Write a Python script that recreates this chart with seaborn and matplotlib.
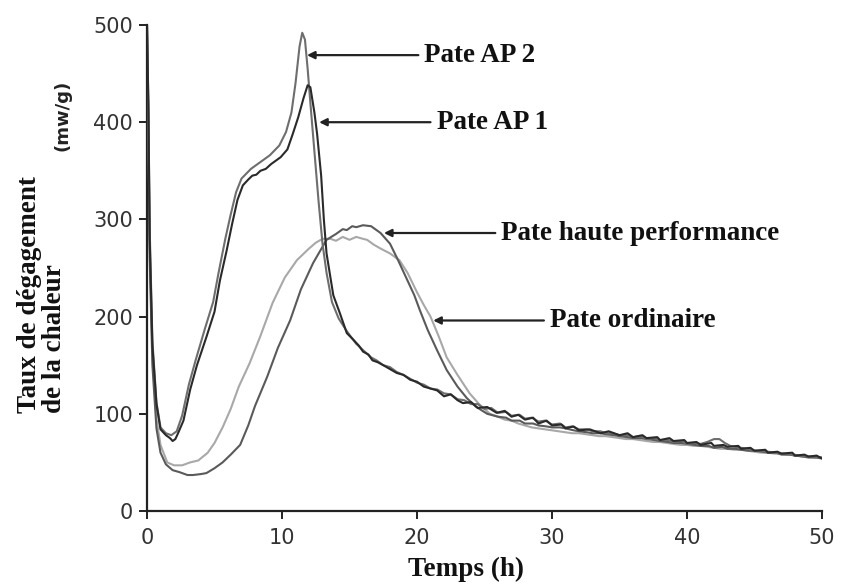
import matplotlib
matplotlib.use("Agg")
import matplotlib.pyplot as plt
import seaborn as sns
import pandas as pd

# ---------------- data ----------------
ap1_t = [0, 0.1, 0.2, 0.4, 0.7, 1.0, 1.4, 1.7, 1.9, 2.1, 2.3, 2.7, 3.2, 3.7, 4.4, 5.0, 5.4, 5.9, 6.3, 6.7,
         7.1, 7.5, 7.8, 8.1, 8.4, 8.8, 9.2, 9.6, 9.9, 10.4, 10.8, 11.2, 11.6, 11.9, 12.1, 12.4, 12.6, 12.9,
         13.1, 13.3, 13.8, 14.3, 14.8, 15.3, 15.7, 16.0, 16.4, 16.7, 17.1, 17.5, 18.0, 18.5, 19.0, 19.5, 20.0,
         20.5, 21.0, 21.5, 22.0, 22.5, 23.0, 23.4, 24.0, 24.5, 25.2, 25.9, 26.5, 27.0, 27.5, 28.0, 28.6,
         29.0, 29.6, 30.0, 30.7, 31.0, 31.6, 32.0, 32.8, 33.6, 34.2, 35.0, 35.6, 36.0, 36.7, 37.0, 37.8,
         38.0, 38.7, 39.0, 39.8, 40.0, 40.7, 41.0, 41.8, 42.0, 42.7, 43.0, 43.8, 44.0, 44.7, 45.0, 45.8,
         46.0, 46.7, 47.0, 47.8, 48.0, 48.7, 49.0, 49.6, 50.0]
ap1_v = [500, 420, 280, 170, 110, 84, 78, 75, 72, 74, 80, 93, 125, 150, 179, 205, 237, 268, 295, 320,
         335, 341, 345, 346, 350, 352, 357, 361, 364, 372, 388, 405, 425, 438, 436, 410, 388, 345,
         300, 265, 222, 203, 183, 176, 170, 164, 161, 155, 153, 150, 146, 142, 140, 135, 133,
         128, 126, 124, 118, 120, 114, 111, 112, 106, 107, 101, 103, 97, 99, 94, 96,
         90, 93, 88, 89, 85, 87, 83, 84, 80, 82, 78, 80, 76, 78, 75, 76,
         73, 75, 72, 73, 70, 71, 68, 70, 67, 68, 66, 67, 64, 65, 62, 63,
         60, 61, 59, 60, 57, 58, 56, 57, 54]

ap2_t = [0, 0.1, 0.2, 0.4, 0.7, 1.0, 1.4, 1.8, 2.2, 2.6, 3.1, 3.6, 4.3, 4.9, 5.3, 5.8, 6.2, 6.6, 7.0,
         7.7, 8.3, 9.1, 9.8, 10.3, 10.7, 11.0, 11.3, 11.5, 11.7, 11.9, 12.1, 12.4, 12.7, 13.0, 13.3,
         13.7, 14.2, 14.8, 15.5, 16.2, 16.6, 17.0, 17.5, 18.0, 18.5, 19.0, 19.5, 20.0, 20.5, 21.0, 21.5,
         22.0, 22.5, 23.0, 23.5, 24.0, 24.5, 25.0, 25.5, 26.0, 26.6, 27.0, 27.6, 28.0, 28.5, 29.0, 29.5,
         30.0, 30.6, 31.0, 31.5, 32.0, 32.6, 33.0, 33.6, 34.0, 34.5, 35.0, 35.6, 36.0, 36.6, 37.0, 37.5,
         38.0, 38.6, 39.0, 39.6, 40.0, 40.6, 41.0, 41.5, 42.0, 42.4, 42.8, 43.2, 44.0, 44.5, 45.0, 45.5,
         46.0, 46.5, 47.0, 47.5, 48.0, 48.5, 49.0, 49.5, 50.0]
ap2_v = [500, 420, 290, 175, 112, 86, 80, 78, 82, 98, 130, 155, 188, 215, 245, 280, 305, 328, 342,
         352, 358, 366, 376, 390, 410, 440, 478, 492, 485, 455, 420, 370, 320, 275, 245,
         215, 198, 185, 172, 163, 158, 155, 150, 148, 143, 140, 136, 132, 130, 126, 125,
         121, 120, 115, 114, 110, 110, 105, 106, 101, 102, 98, 99, 95, 96, 92, 93,
         89, 90, 86, 87, 84, 84, 82, 82, 80, 80, 78, 78, 76, 77, 74, 75,
         73, 73, 71, 72, 69, 70, 69, 71, 74, 74, 70, 67, 65, 64, 62, 62,
         61, 60, 59, 59, 57, 57, 56, 56, 55]

hp_t = [0, 0.1, 0.2, 0.4, 0.7, 1.0, 1.4, 1.9, 2.4, 3.0, 3.4, 4.0, 4.4, 5.0, 5.6, 6.2, 6.9, 7.5, 8.0,
        8.9, 9.7, 10.6, 11.4, 12.3, 13.3, 14.0, 14.5, 14.8, 15.2, 15.5, 16.0, 16.6, 17.3, 18.0, 18.6,
        19.2, 19.8, 20.2, 20.8, 21.5, 22.2, 23.0, 23.7, 24.4, 25.2, 26.0, 26.6, 27.0, 27.6, 28.0, 28.6,
        29.0, 29.6, 30.0, 30.6, 31.0, 31.6, 32.0, 32.6, 33.0, 33.6, 34.0, 34.6, 35.0, 35.6, 36.0, 36.6,
        37.0, 37.6, 38.0, 38.6, 39.0, 39.6, 40.0, 40.6, 41.0, 41.6, 42.0, 42.6, 43.0, 43.6, 44.0, 44.6,
        45.0, 45.6, 46.0, 46.6, 47.0, 47.6, 48.0, 48.6, 49.0, 49.6, 50.0]
hp_v = [500, 400, 260, 150, 85, 60, 48, 42, 40, 37, 37, 38, 39, 44, 50, 58, 68, 88, 108,
        138, 168, 196, 228, 255, 279, 285, 290, 289, 293, 292, 294, 293, 286, 275, 258,
        240, 222, 207, 186, 165, 145, 128, 116, 107, 100, 97, 96, 93, 93, 90, 90,
        88, 87, 86, 86, 85, 83, 82, 81, 80, 80, 79, 78, 77, 76, 75, 75,
        74, 73, 72, 71, 70, 70, 69, 68, 67, 67, 65, 66, 64, 64, 63, 62,
        62, 61, 60, 60, 58, 58, 57, 56, 55, 55, 54]

ord_t = [0, 0.1, 0.2, 0.4, 0.7, 1.0, 1.5, 2.0, 2.6, 3.2, 3.8, 4.5, 5.0, 5.6, 6.2, 6.8, 7.6, 8.4, 9.3,
         10.2, 11.1, 12.0, 12.5, 13.0, 13.6, 14.0, 14.5, 15.0, 15.5, 16.0, 16.3, 16.8, 17.3, 18.0, 18.7,
         19.3, 20.0, 20.5, 21.0, 21.6, 22.2, 23.0, 23.9, 24.6, 25.4, 26.0, 26.5, 27.0, 27.5, 28.0, 28.5,
         29.0, 29.5, 30.0, 30.5, 31.0, 31.5, 32.0, 32.5, 33.0, 33.5, 34.0, 34.5, 35.0, 35.5, 36.0, 36.5,
         37.0, 37.5, 38.0, 38.5, 39.0, 39.5, 40.0, 40.5, 41.0, 41.5, 42.0, 42.5, 43.0, 43.5, 44.0, 44.5,
         45.0, 45.5, 46.0, 46.5, 47.0, 47.5, 48.0, 48.5, 49.0, 49.5, 50.0]
ord_v = [500, 410, 270, 160, 95, 68, 50, 47, 47, 50, 52, 60, 70, 86, 105, 128, 152, 180, 214,
         240, 258, 270, 276, 280, 280, 278, 282, 279, 282, 280, 279, 274, 270, 265, 258,
         245, 225, 212, 200, 180, 158, 140, 121, 110, 100, 97, 94, 93, 90, 88, 86,
         85, 84, 83, 82, 81, 80, 80, 79, 78, 77, 77, 76, 75, 74, 74, 73,
         72, 71, 71, 70, 69, 68, 68, 67, 67, 66, 65, 64, 64, 63, 63, 62,
         61, 60, 60, 59, 59, 58, 58, 56, 56, 55, 55]

series_names = ["Pate AP 1", "Pate AP 2", "Pate haute performance", "Pate ordinaire"]
x_ticks = [0, 10, 20, 30, 40, 50]
y_ticks = [0, 100, 200, 300, 400, 500]

# annotation anchor points (curve point, text start) in data units
ann_tip = [(12.75, 400), (11.85, 469), (17.55, 286), (21.2, 196)]
ann_text = [(21.0, 400), (20.1, 469), (25.8, 286), (29.4, 196)]

# ---------------- plotting ----------------
sns.set_style("ticks")
plt.rcParams["font.family"] = ["DejaVu Sans"]

fig = plt.figure(figsize=(8.43, 5.86), dpi=100)
ax = fig.add_axes([147 / 843, 1 - 511 / 586, (822 - 147) / 843, (511 - 25) / 586])

data = [(ap1_t, ap1_v), (ap2_t, ap2_v), (hp_t, hp_v), (ord_t, ord_v)]
colors = ["#2a2a2a", "#6e6e6e", "#5a5a5a", "#a8a8a8"]
order = [3, 2, 1, 0]
for i in order:
    t, v = data[i]
    df = pd.DataFrame({"t": t, "v": v})
    sns.lineplot(data=df, x="t", y="v", ax=ax, color=colors[i], lw=1.5,
                 estimator=None, sort=False, zorder=3 + (3 - i))

ax.set_xlim(0, 50)
ax.set_ylim(0, 500)
ax.set_xticks(x_ticks)
ax.set_yticks(y_ticks)
ax.set_xlabel("")
ax.set_ylabel("")
for s in ["top", "right"]:
    ax.spines[s].set_visible(False)
for s in ["left", "bottom"]:
    ax.spines[s].set_linewidth(1.6)
    ax.spines[s].set_color("#222222")
ax.tick_params(axis="both", length=6, width=1.4, color="#222222", labelsize=15,
               labelcolor="#333333", pad=4)
ax.tick_params(axis="x", pad=6)

serif = "Liberation Serif"
for name, tip, txt in zip(series_names, ann_tip, ann_text):
    ax.annotate("", xy=tip, xytext=txt,
                arrowprops=dict(arrowstyle="-|>", color="#222222", lw=1.6,
                                mutation_scale=11, shrinkA=0, shrinkB=0))
    ax.text(txt[0] + 0.45, txt[1], name, family=serif, weight="bold", fontsize=19.5,
            color="#111111", ha="left", va="center")

fig.text(466 / 843, 1 - 569 / 586, "Temps (h)", family=serif, weight="bold", fontsize=19.5,
         color="#111111", ha="center", va="center")
fig.text(42 / 843, 1 - 413 / 586, "Taux de dégagement\nde la chaleur", family=serif,
         weight="bold", fontsize=19.5, color="#111111", rotation=90, ha="center", va="bottom",
         multialignment="left", linespacing=1.05)
fig.text(63 / 843, 1 - 115 / 586, "(mw/g)", weight="bold", fontsize=13, color="#222222",
         rotation=90, ha="center", va="center")

fig.savefig("out.png", dpi=100, facecolor="white")
